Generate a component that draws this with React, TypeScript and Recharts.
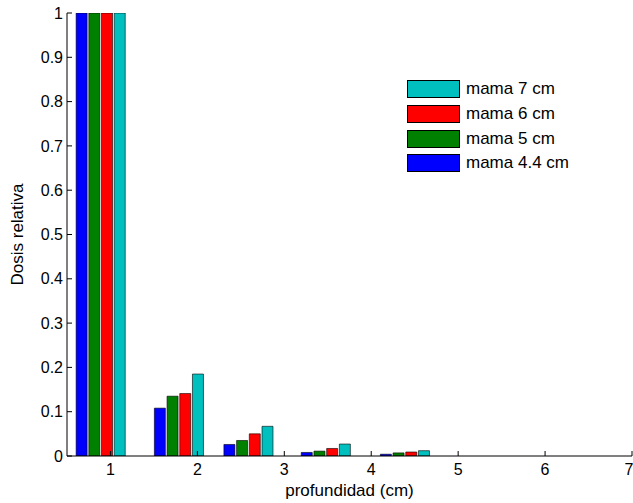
import { Bar, BarChart, XAxis, YAxis, Legend, Label } from 'recharts'

// depth positions of each bar group (cm)
const depths = [0.89, 1.79, 2.59, 3.48, 4.39]
const mama44 = [1, 0.108, 0.026, 0.008, 0.004]
const mama5 = [1, 0.135, 0.035, 0.011, 0.007]
const mama6 = [1, 0.141, 0.05, 0.017, 0.009]
const mama7 = [1, 0.185, 0.067, 0.027, 0.012]

const xTicks = [1, 2, 3, 4, 5, 6, 7]
const yTicks = [0, 0.1, 0.2, 0.3, 0.4, 0.5, 0.6, 0.7, 0.8, 0.9, 1]

const series = [
  { key: 'm44', name: 'mama 4.4 cm', color: '#0000ff' },
  { key: 'm5', name: 'mama 5 cm', color: '#008000' },
  { key: 'm6', name: 'mama 6 cm', color: '#ff0000' },
  { key: 'm7', name: 'mama 7 cm', color: '#00bfbf' },
]

const data = depths.map((x, i) => ({
  x,
  m44: mama44[i],
  m5: mama5[i],
  m6: mama6[i],
  m7: mama7[i],
}))

const font = '"Liberation Sans", Arial, sans-serif'
const tickStyle = { fontSize: 16, fill: '#000', fontFamily: font }
const labelStyle = { fontSize: 17, fill: '#000', fontFamily: font }

function LegendBox() {
  const items = [...series].reverse()
  return (
    <div style={{ fontFamily: font, fontSize: 17, color: '#000' }}>
      {items.map((s) => (
        <div
          key={s.key}
          style={{ display: 'flex', alignItems: 'center', height: 24.7 }}
        >
          <div
            style={{
              width: 51,
              height: 16,
              background: s.color,
              border: '1px solid #000',
              marginRight: 6,
            }}
          />
          <span>{s.name}</span>
        </div>
      ))}
    </div>
  )
}

export default function App() {
  return (
    <div style={{ position: 'absolute', left: 0, top: 0, background: '#fff' }}>
      <BarChart
        width={633}
        height={503}
        data={data}
        margin={{ top: 13, right: 1, bottom: 0, left: 0 }}
        barGap={1.7}
        barSize={11}
      >
        <XAxis
          dataKey='x'
          type='number'
          domain={[0.5, 7]}
          allowDataOverflow
          ticks={xTicks}
          height={47}
          tickSize={-5}
          tickMargin={13}
          tick={tickStyle}
          stroke='#000'
        >
          <Label
            value='profundidad (cm)'
            position='insideBottom'
            offset={7}
            style={labelStyle}
          />
        </XAxis>
        <XAxis
          xAxisId='top'
          orientation='top'
          dataKey='x'
          type='number'
          domain={[0.5, 7]}
          allowDataOverflow
          ticks={xTicks}
          height={0}
          tickSize={-5}
          tick={false}
          stroke='#000'
        />
        <YAxis
          type='number'
          domain={[0, 1]}
          allowDataOverflow
          ticks={yTicks}
          width={67}
          tickSize={-5}
          tickMargin={9}
          tick={tickStyle}
          tickFormatter={(v) => String(v)}
          stroke='#000'
        >
          <Label
            value='Dosis relativa'
            angle={-90}
            position='insideLeft'
            offset={17}
            style={{ ...labelStyle, textAnchor: 'middle' }}
          />
        </YAxis>
        <YAxis
          yAxisId='right'
          orientation='right'
          type='number'
          domain={[0, 1]}
          allowDataOverflow
          ticks={yTicks}
          width={0}
          tickSize={-5}
          tick={false}
          stroke='#000'
        />
        <Legend
          layout='vertical'
          align='center'
          verticalAlign='middle'
          wrapperStyle={{ left: 407, top: 77, width: 'auto' }}
          content={() => <LegendBox />}
        />
        {series.map((s) => (
          <Bar
            key={s.key}
            dataKey={s.key}
            name={s.name}
            fill={s.color}
            stroke='#000'
            strokeWidth={0.6}
            isAnimationActive={false}
          />
        ))}
      </BarChart>
    </div>
  )
}
